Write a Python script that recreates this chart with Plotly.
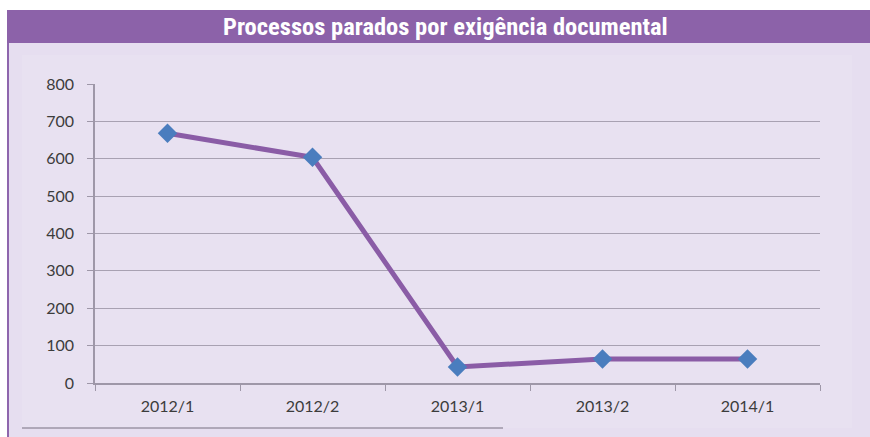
import plotly.graph_objects as go

categories = ["2012/1", "2012/2", "2013/1", "2013/2", "2014/1"]
values = [668, 604, 43, 64, 64]
y_ticks = [0, 100, 200, 300, 400, 500, 600, 700, 800]
title_text = "Processos parados por exigência documental"

W, H = 870, 437
L, R, T, B = 95, 50, 84, 54
PW, PH = W - L - R, H - T - B

def px(x):
    return (x - L) / PW

def py(y):
    return (H - B - y) / PH

fig = go.Figure()
fig.add_trace(go.Scatter(
    x=categories, y=values, mode="lines+markers",
    line=dict(color="#8A5CA6", width=5),
    marker=dict(symbol="diamond", size=15, color="#4A7DBE",
                line=dict(width=0)),
    showlegend=False, hoverinfo="x+y",
))

shapes = [
    dict(type="rect", xref="paper", yref="paper", x0=px(7), x1=px(870), y0=py(437), y1=py(43),
         fillcolor="#E6DEF0", line=dict(width=0), layer="below"),
    dict(type="rect", xref="paper", yref="paper", x0=px(22), x1=px(852), y0=py(428), y1=py(55),
         fillcolor="#E8E1F1", line=dict(width=0), layer="below"),
    dict(type="rect", xref="paper", yref="paper", x0=px(7), x1=px(870), y0=py(43), y1=py(10),
         fillcolor="#8C62A9", line=dict(width=0), layer="below"),
    dict(type="line", xref="paper", yref="paper", x0=px(8), x1=px(8), y0=py(437), y1=py(43),
         line=dict(color="#8E66AD", width=2), layer="below"),
    dict(type="line", xref="paper", yref="paper", x0=px(22), x1=px(503), y0=py(428), y1=py(428),
         line=dict(color="#9C95A6", width=1.5), layer="below"),
]

tick_font = dict(family="Lato, Open Sans, sans-serif", size=16, color="#3C3C3C")

fig.update_layout(
    width=W, height=H,
    margin=dict(l=L, r=R, t=T, b=B),
    paper_bgcolor="white",
    plot_bgcolor="rgba(0,0,0,0)",
    shapes=shapes,
    annotations=[dict(
        text="<b>" + title_text + "</b>", xref="paper", yref="paper",
        x=px(445), y=py(27), xanchor="center", yanchor="middle", showarrow=False,
        font=dict(family="Liberation Sans Narrow, Roboto Condensed, Arial Narrow, sans-serif",
                  size=24.5, color="white"),
    )],
    xaxis=dict(
        type="category", range=[-0.5, 4.5], tickson="boundaries",
        ticks="outside", ticklen=6, tickcolor="#9E97A8",
        showline=True, linecolor="#9E97A8", linewidth=1.5,
        showgrid=False, zeroline=False, ticklabelstandoff=8,
        tickfont=tick_font,
    ),
    yaxis=dict(
        range=[0, 800], tickvals=y_ticks, ticks="outside", ticklen=6,
        tickcolor="#9E97A8", showline=True, linecolor="#9E97A8", linewidth=1.5,
        showgrid=True, gridcolor="#A8A1B2", gridwidth=1, zeroline=False,
        ticklabelstandoff=10, tickfont=tick_font,
    ),
)

fig.write_html("out.html", config={"displayModeBar": False},
               post_script="document.body.style.margin='0';document.body.style.padding='0';")
